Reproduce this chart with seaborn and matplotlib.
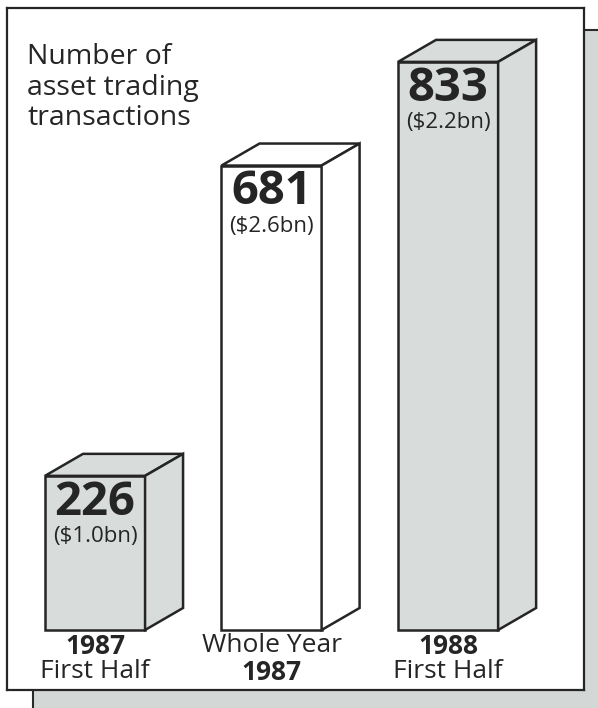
import matplotlib
matplotlib.use("Agg")
import matplotlib.pyplot as plt
import seaborn as sns
from matplotlib.patches import Rectangle, Polygon

# ---- data ----
categories = ["1987 First Half", "Whole Year 1987", "1988 First Half"]
values = [226, 681, 833]
value_labels = ["($1.0bn)", "($2.6bn)", "($2.2bn)"]
label_top = ["1987", "Whole Year", "1988"]
label_bottom = ["First Half", "1987", "First Half"]
top_bold = [True, False, True]
bar_colors = ["#d8dcdb", "#ffffff", "#d8dcdb"]

sns.set_theme(style="white")
plt.rcParams["font.family"] = ["Open Sans", "DejaVu Sans"]

W, H, DPI = 598, 708, 100
fig = plt.figure(figsize=(W / DPI, H / DPI), dpi=DPI)
fig.patch.set_facecolor("white")

# panel in pixel coordinates (top-origin)
px0, px1, py0, py1 = 7, 584, 8, 690
ax = fig.add_axes([px0 / W, 1 - py1 / H, (px1 - px0) / W, (py1 - py0) / H])
ax.set_zorder(2)

# shadow behind the panel
shadow = Rectangle((33 / W, -0.05), 1.1, (H - 30) / H + 0.05, transform=fig.transFigure,
                   facecolor="#d3d7d6", edgecolor="#2a2a2a", linewidth=1.5, zorder=0.5)
fig.patches.append(shadow)

ink = "#252525"
sns.barplot(x=categories, y=values, hue=categories, palette=bar_colors, legend=False,
            width=0.567, edgecolor=ink, linewidth=1.8, saturation=1, ax=ax)

ax.set_xlim(-0.4986, 2.77)
ax.set_ylim(-88, 912)
ax.set_xticks([])
ax.set_yticks([])
ax.set_xlabel("")
ax.set_ylabel("")
for s in ax.spines.values():
    s.set_visible(True)
    s.set_color(ink)
    s.set_linewidth(1.6)

# 3D depth faces derived from the bar patches
ax_w_px = px1 - px0
ax_h_px = py1 - py0
xl = ax.get_xlim(); yl = ax.get_ylim()
dx = 38 * (xl[1] - xl[0]) / ax_w_px
dy = 22 * (yl[1] - yl[0]) / ax_h_px

for p, col, val, vl in zip(ax.patches, bar_colors, values, value_labels):
    x0 = p.get_x(); x1 = x0 + p.get_width(); h = p.get_height()
    top = Polygon([(x0, h), (x0 + dx, h + dy), (x1 + dx, h + dy), (x1, h)], closed=True,
                  facecolor=col, edgecolor=ink, linewidth=1.8, joinstyle="miter", zorder=3)
    side = Polygon([(x1, 0), (x1, h), (x1 + dx, h + dy), (x1 + dx, dy)], closed=True,
                   facecolor=col, edgecolor=ink, linewidth=1.8, joinstyle="miter", zorder=3)
    ax.add_patch(top)
    ax.add_patch(side)
    cx = (x0 + x1) / 2
    ax.annotate(f"{val}", (cx, h), xytext=(0, -19), textcoords="offset points",
                ha="center", va="center", fontsize=34, fontweight="bold", color=ink, zorder=4)
    ax.annotate(vl, (cx, h), xytext=(0, -44), textcoords="offset points",
                ha="center", va="center", fontsize=16, color=ink, zorder=4)

# category labels under bars
trans = ax.get_xaxis_transform()
for i, (t1, t2, b) in enumerate(zip(label_top, label_bottom, top_bold)):
    ax.text(i, (py1 - 646) / ax_h_px, t1, transform=trans, ha="center", va="center",
            fontsize=19, fontweight="bold" if b else "normal", color=ink)
    ax.text(i, (py1 - 672) / ax_h_px, t2, transform=trans, ha="center", va="center",
            fontsize=19, fontweight="normal" if b else "bold", color=ink)

# chart title
ax.text((27 - px0) / ax_w_px, (py1 - 43) / ax_h_px, "Number of\nasset trading\ntransactions",
        transform=ax.transAxes, ha="left", va="top", fontsize=20.5, color=ink, linespacing=1.13)

fig.savefig("out.png", dpi=DPI)
